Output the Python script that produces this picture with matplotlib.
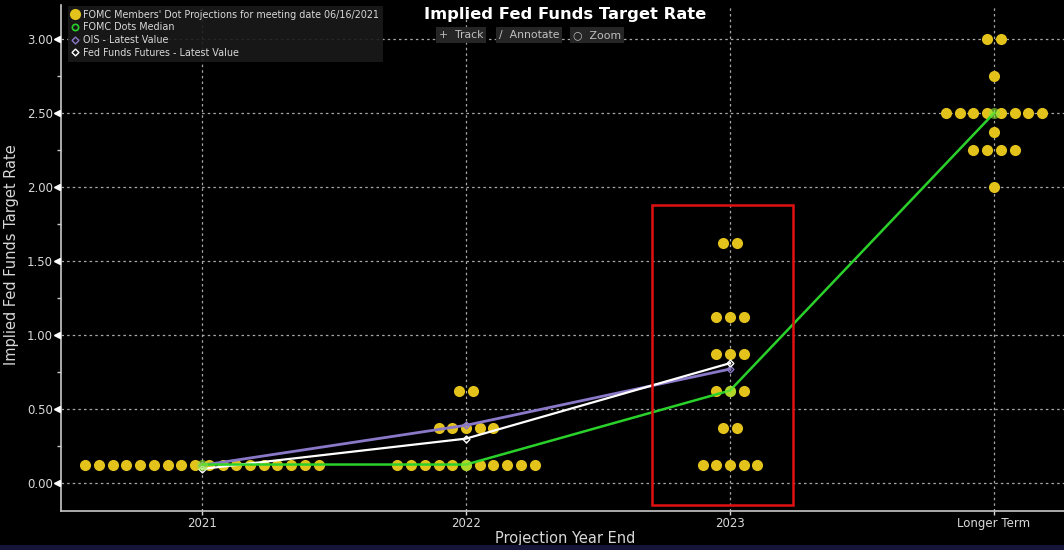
import matplotlib
matplotlib.use("Agg")
import matplotlib.pyplot as plt
from matplotlib.patches import Rectangle
from matplotlib.lines import Line2D
import matplotlib.transforms as mtransforms

# categories on the x axis
categories = ["2021", "2022", "2023", "Longer Term"]

# FOMC dot plot: rate level -> number of participants, one dict per category
dots_2021 = {0.125: 18}
dots_2022 = {0.125: 11, 0.375: 5, 0.625: 2}
dots_2023 = {0.125: 5, 0.375: 2, 0.625: 3, 0.875: 3, 1.125: 3, 1.625: 2}
dots_longer = {2.0: 1, 2.25: 4, 2.375: 1, 2.5: 8, 2.75: 1, 3.0: 2}
all_dots = [dots_2021, dots_2022, dots_2023, dots_longer]

median_vals = [0.125, 0.125, 0.625, 2.5]
ois_vals = [0.12, 0.39, 0.77]
futures_vals = [0.095, 0.30, 0.81]

yellow = "#e3c21c"
green = "#2bd12b"
purple = "#8a78c8"
grid_c = "#a8a8a8"
text_c = "#d8d8d8"

fig = plt.figure(figsize=(10.64, 5.5), dpi=100, facecolor="black")
ax = fig.add_axes([61 / 1064, 39 / 550, 1 - 61 / 1064, (511 - 5) / 550])
ax.set_facecolor("black")

x = list(range(len(categories)))
spacing = 0.052

# dots
for xi, d in zip(x, all_dots):
    for rate, n in d.items():
        xs = [xi + (i - (n - 1) / 2) * spacing for i in range(n)]
        ax.plot(xs, [rate] * n, "o", color=yellow, markersize=8, markeredgewidth=0, zorder=3)

# lines
ax.plot(x[:3], ois_vals, color=purple, lw=2, marker="D", markersize=3.5,
        markerfacecolor="none", markeredgecolor=purple, zorder=4)
ax.plot(x[:3], futures_vals, color="white", lw=1.6, marker="D", markersize=3.5,
        markerfacecolor="none", markeredgecolor="white", zorder=5)
ax.plot(x, median_vals, color=green, lw=1.8, zorder=6)
ax.plot(x, median_vals, "o", markersize=8, markerfacecolor=(0.55, 0.9, 0.2, 0.6),
        markeredgewidth=0, zorder=6)

# red highlight box around 2023
ax.add_patch(Rectangle((1.705, -0.149), 0.534, 2.027, fill=False, edgecolor="#e01010", lw=1.8, zorder=7))

ax.set_xlim(-0.534, 3.265)
ax.set_ylim(-0.189, 3.23)
ax.set_xticks(x)
ax.set_xticklabels(categories)
ax.set_yticks([0, 0.5, 1.0, 1.5, 2.0, 2.5, 3.0])
ax.set_yticklabels(["%.2f" % v for v in [0, 0.5, 1.0, 1.5, 2.0, 2.5, 3.0]])
ax.set_yticks([0.25, 0.75, 1.25, 1.75, 2.25, 2.75], minor=True)

ax.grid(True, which="major", color=grid_c, linestyle=(0, (2, 2.5)), lw=0.9, zorder=1)
for s in ["top", "right"]:
    ax.spines[s].set_visible(False)
for s in ["left", "bottom"]:
    ax.spines[s].set_color("#c8c8c8")
    ax.spines[s].set_linewidth(1.2)

ax.tick_params(axis="y", which="major", colors=text_c, labelsize=8.5, length=0, pad=6)
ax.tick_params(axis="y", which="minor", color="#c8c8c8", length=3, width=1)
ax.tick_params(axis="x", which="major", colors=text_c, labelsize=8.5, length=3, width=1, pad=1)

# arrow-shaped major tick marks on y axis
trans = mtransforms.blended_transform_factory(ax.transAxes, ax.transData)
ax.plot([-0.004] * 7, [0, 0.5, 1.0, 1.5, 2.0, 2.5, 3.0], "<", color="white", markersize=4,
        transform=trans, clip_on=False, zorder=8)

ax.set_xlabel("Projection Year End", color=text_c, fontsize=10.5)
ax.xaxis.label.set_va("center")
ax.xaxis.set_label_coords((565 - 61) / (1064 - 61), -27 / 506)
ax.set_ylabel("Implied Fed Funds Target Rate", color=text_c, fontsize=10.5)
ax.yaxis.label.set_va("center")
ax.yaxis.set_label_coords((12 - 61) / (1064 - 61), (550 - 255 - 39) / 506)

fig.text(565 / 1064, 1 - 14 / 550, "Implied Fed Funds Target Rate", color="white",
         fontsize=11.8, fontweight="bold", ha="center", va="center")

# toolbar buttons
for label, cx in [("+  Track", 461), ("∕  Annotate", 529), ("○  Zoom", 597)]:
    fig.text(cx / 1064, 1 - 35 / 550, label, color="#c0c0c0", fontsize=7.8, ha="center", va="center",
             bbox=dict(boxstyle="square,pad=0.25", facecolor="#262626", edgecolor="none"))

# legend
handles = [
    Line2D([], [], ls="none", marker="o", markersize=8, color=yellow, markeredgewidth=0),
    Line2D([], [], ls="none", marker="o", markersize=4.5, markerfacecolor="none",
           markeredgecolor=green, markeredgewidth=1.2),
    Line2D([], [], ls="none", marker="D", markersize=3.5, markerfacecolor="none",
           markeredgecolor=purple, markeredgewidth=1),
    Line2D([], [], ls="none", marker="D", markersize=3.5, markerfacecolor="none",
           markeredgecolor="white", markeredgewidth=1),
]
labels = ["FOMC Members' Dot Projections for meeting date 06/16/2021", "FOMC Dots Median",
          "OIS - Latest Value", "Fed Funds Futures - Latest Value"]
leg = fig.legend(handles, labels, loc="upper left", bbox_to_anchor=(63 / 1064, 1 - 1 / 550),
                 frameon=True, fontsize=6.9, labelcolor=text_c, handlelength=0.8,
                 handletextpad=0.4, borderpad=0.4, labelspacing=0.28, fancybox=False)
leg.get_frame().set_facecolor("#1a1a1a")
leg.get_frame().set_edgecolor("none")
leg.get_frame().set_alpha(0.9)

# thin navy strip at the bottom
fig.patches.append(Rectangle((0, 0), 1, 5 / 550, transform=fig.transFigure, facecolor="#15153a",
                             edgecolor="none"))

fig.savefig("out.png", dpi=100, facecolor="black")
